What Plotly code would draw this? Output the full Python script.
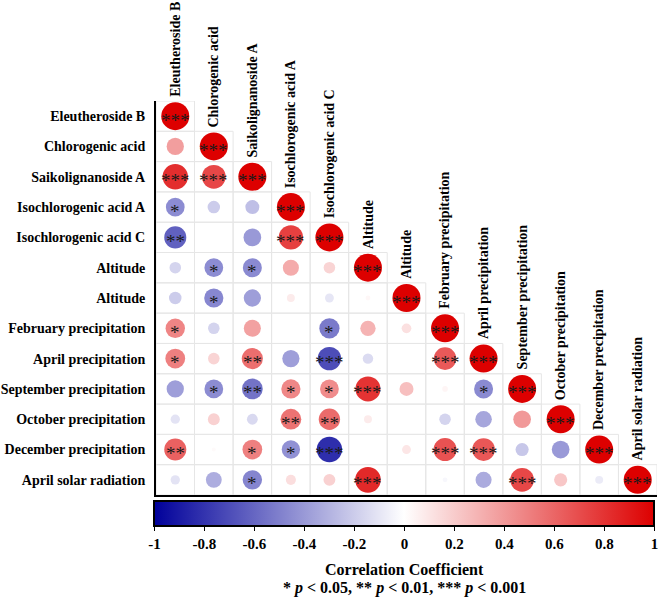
import numpy as np
import plotly.graph_objects as go

labels = ["Eleutheroside B", "Chlorogenic acid", "Saikolignanoside A", "Isochlorogenic acid A",
          "Isochlorogenic acid C", "Altitude", "Altitude", "February precipitation",
          "April precipitation", "September precipitation", "October precipitation",
          "December precipitation", "April solar radiation"]

# lower-triangular correlation values (row i, cols 0..i)
r_rows = [
    [1.0],
    [0.38, 1.0],
    [0.82, 0.72, 1.0],
    [-0.45, -0.20, -0.25, 1.0],
    [-0.62, 0.0, -0.40, 0.75, 1.0],
    [-0.17, -0.45, -0.46, 0.33, 0.17, 1.0],
    [-0.20, -0.47, -0.38, 0.08, -0.10, 0.03, 1.0],
    [0.48, -0.17, 0.37, 0.0, -0.52, 0.30, 0.12, 1.0],
    [0.50, 0.17, 0.57, -0.38, -0.70, -0.14, 0.0, 0.65, 1.0],
    [-0.38, -0.45, -0.55, 0.47, 0.45, 0.80, 0.25, 0.04, -0.46, 1.0],
    [-0.11, 0.18, -0.15, 0.55, 0.58, 0.08, 0.0, -0.17, -0.35, 0.40, 1.0],
    [0.62, 0.02, 0.50, -0.43, -0.82, 0.0, 0.10, 0.68, 0.66, -0.22, -0.40, 1.0],
    [-0.11, -0.32, -0.48, 0.13, 0.18, 0.84, 0.0, -0.03, -0.33, 0.72, 0.22, -0.08, 1.0],
]
sig_rows = [
    ["***"],
    ["", "***"],
    ["***", "***", "***"],
    ["*", "", "", "***"],
    ["**", "", "", "***", "***"],
    ["", "*", "*", "", "", "***"],
    ["", "*", "", "", "", "", "***"],
    ["*", "", "", "", "*", "", "", "***"],
    ["*", "", "**", "", "***", "", "", "***", "***"],
    ["", "*", "**", "*", "*", "***", "", "", "*", "***"],
    ["", "", "", "**", "**", "", "", "", "", "", "***"],
    ["**", "", "*", "*", "***", "", "", "***", "***", "", "", "***"],
    ["", "", "*", "", "", "***", "", "", "", "***", "", "", "***"],
]
colorbar_ticks = [-1, -0.8, -0.6, -0.4, -0.2, 0, 0.2, 0.4, 0.6, 0.8, 1]

n = len(labels)
xs, ys, rs, ss = [], [], [], []
for i, row in enumerate(r_rows):
    for j, v in enumerate(row):
        xs.append(j); ys.append(i); rs.append(v); ss.append(sig_rows[i][j])
rs = np.array(rs)
DMAX = 28
sizes = DMAX * np.sqrt(np.abs(rs))

FONT = "Liberation Serif"
cscale = [[0, "#00009A"], [0.5, "#FFFFFF"], [1, "#DD0000"]]

fig = go.Figure()
fig.add_trace(go.Scatter(
    x=xs, y=ys, mode="markers",
    marker=dict(size=sizes, color=rs, colorscale=cscale, cmin=-1, cmax=1,
                line=dict(width=0), opacity=1,
                colorbar=dict(orientation="h", x=0.496, xanchor="center", y=-0.015, yanchor="top",
                              thickness=25, thicknessmode="pixels", len=500, lenmode="pixels",
                              xpad=0, ypad=0, outlinewidth=2, outlinecolor="black",
                              ticks="outside", ticklen=4, tickcolor="black",
                              ticklabeloverflow="allow",
                              tickvals=colorbar_ticks,
                              ticktext=[("%g" % t) for t in colorbar_ticks],
                              tickfont=dict(family=FONT, size=15, color="black", weight="bold"))),
    hoverinfo="skip", showlegend=False))

shapes = []
for i in range(n):
    for j in range(i + 1):
        shapes.append(dict(type="rect", xref="x", yref="y", x0=j - 0.5, x1=j + 0.5,
                           y0=i - 0.5, y1=i + 0.5, line=dict(color="#E6E6E6", width=1),
                           layer="below"))

annotations = []
for x, y, s in zip(xs, ys, ss):
    if s:
        annotations.append(dict(x=x, y=y, xref="x", yref="y", text=s, showarrow=False,
                                font=dict(family=FONT, size=19, color="#1a1a1a"),
                                yshift=-4))
for j, lab in enumerate(labels):
    annotations.append(dict(x=j, y=j - 0.5, xref="x", yref="y", text="<b>%s</b>" % lab,
                            textangle=-90, showarrow=False, xanchor="center", yanchor="bottom",
                            yshift=2, font=dict(family=FONT, size=14, color="black")))
annotations.append(dict(x=0.496, y=-0.190, xref="paper", yref="paper", showarrow=False,
                        yanchor="middle",
                        text="<b>Correlation Coefficient</b>",
                        font=dict(family=FONT, size=16, color="black")))
annotations.append(dict(x=0.496, y=-0.236, xref="paper", yref="paper", showarrow=False,
                        yanchor="middle",
                        text="<b>* <i>p</i> &lt; 0.05, ** <i>p</i> &lt; 0.01, *** <i>p</i> &lt; 0.001</b>",
                        font=dict(family=FONT, size=16, color="black")))

fig.update_layout(
    width=658, height=600, margin=dict(l=153, r=1, t=101, b=105),
    paper_bgcolor="white", plot_bgcolor="white",
    shapes=shapes, annotations=annotations,
    xaxis=dict(range=[-0.5, n - 0.5], showgrid=False, zeroline=False, showticklabels=False,
               showline=True, linecolor="black", linewidth=2, ticks=""),
    yaxis=dict(range=[n - 0.5, -0.5], showgrid=False, zeroline=False,
               tickvals=list(range(n)), ticktext=["<b>%s</b>" % l for l in labels],
               tickfont=dict(family=FONT, size=14, color="black"), ticks="",
               ticklabelstandoff=6,
               showline=True, linecolor="black", linewidth=2),
)
fig.write_html("out.html")
